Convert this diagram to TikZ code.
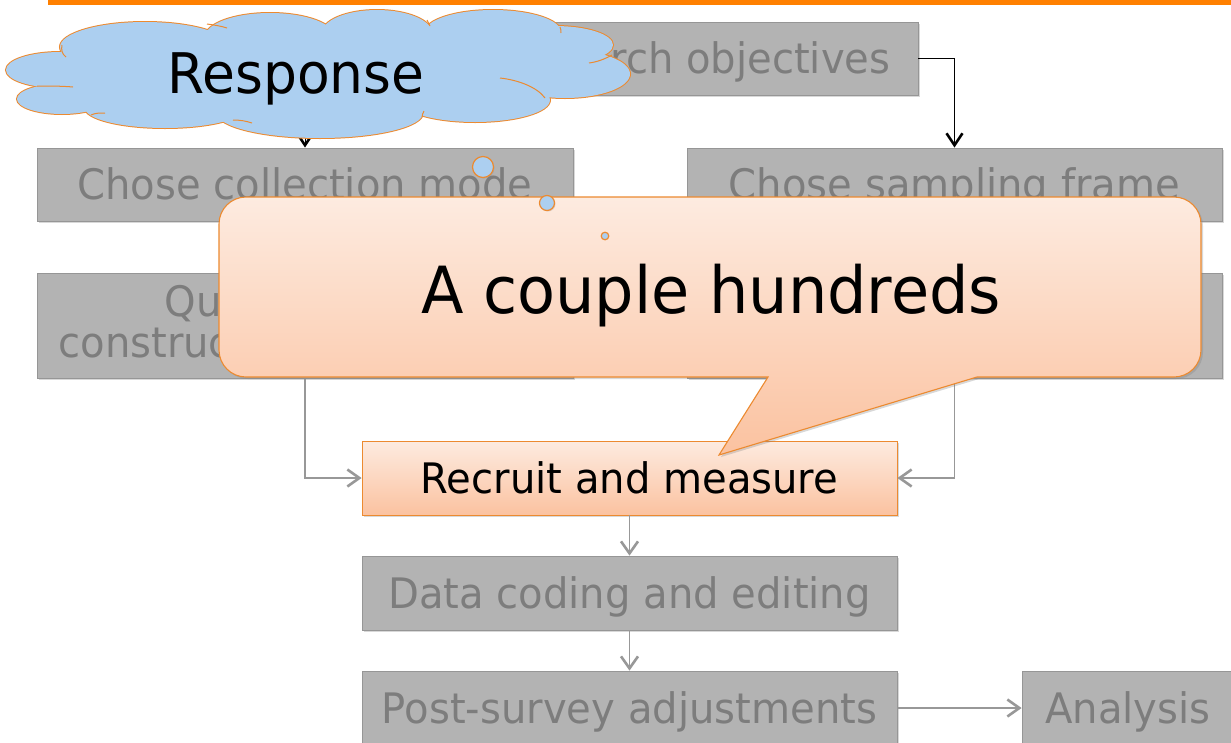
\documentclass[tikz,border=0pt]{standalone}
\usepackage{fontspec}
\setmainfont[FakeStretch=0.955]{DejaVu Sans}
\usetikzlibrary{arrows.meta,shadows}

\definecolor{boxgray}{RGB}{179,179,179}
\definecolor{boxedge}{RGB}{150,150,150}
\definecolor{boxtext}{RGB}{125,125,125}
\definecolor{linkgray}{RGB}{152,152,152}
\definecolor{accent}{RGB}{236,138,48}
\definecolor{peachtop}{RGB}{253,235,224}
\definecolor{peachbot}{RGB}{251,194,160}
\definecolor{cloudblue}{RGB}{172,207,240}
\definecolor{barorange}{RGB}{255,128,0}

\begin{document}
\begin{tikzpicture}[x=1pt,y=-1pt,
  stagebase/.style={draw=boxedge, line width=0.8pt, fill=boxgray, text=boxtext,
    inner sep=0pt, font=\fontsize{42}{41}\selectfont,
    drop shadow={shadow xshift=1.5pt, shadow yshift=-1.5pt, opacity=0.3}},
  stage/.style={stagebase, minimum height=73pt, text height=30.6pt, text depth=0pt},
  active/.style={stage, draw=accent, top color=peachtop, bottom color=peachbot, text=black},
  link/.style={draw=linkgray, line width=1.3pt,
    -{Straight Barb[length=12pt,width=17pt,line width=2.6pt]}},
  toplink/.style={draw=black, line width=1pt,
    -{Straight Barb[length=12pt,width=16pt,line width=2.6pt]}},
  puff/.style={draw=accent, line width=2pt, fill=cloudblue},
  puffcore/.style={fill=cloudblue},
  crease/.style={draw=accent, line width=1pt},
  bubble/.style={draw=accent, line width=1.2pt, fill=cloudblue}
]
\useasboundingbox (0,0) rectangle (1231,742);
\fill[white] (0,0) rectangle (1231,742);

% title rule
\fill[barorange] (48,0) rectangle (1231,4.5);

% process stages
\node[stage, minimum width=456pt] (ro) at (690,58.5) {Research objectives};
\node[stage, minimum width=536pt] (ccm) at (305,184.5) {Chose collection mode};
\node[stage, minimum width=535pt] (csf) at (954.5,184.5) {Chose sampling frame};
\node[stagebase, minimum width=536pt, minimum height=105pt, align=center] (qc) at (305,325.5)
  {Questionnaire\\construction and pretest};
\node[stagebase, minimum width=535pt, minimum height=105pt] (dss) at (954.5,325.5) {};
\node[active, minimum width=535pt, minimum height=74pt] (rm) at (629.5,478) {Recruit and measure};
\node[stage, minimum width=535pt, minimum height=74pt] (dce) at (629.5,593) {Data coding and editing};
\node[stage, minimum width=535pt, minimum height=74pt] (psa) at (629.5,708) {Post-survey adjustments};
\node[stage, minimum width=212pt, minimum height=74pt] (an) at (1128,708) {Analysis};

% connectors
\draw[toplink] (ro.west) -| (ccm.north);
\draw[toplink] (ro.east) -| (csf.north);
\draw[link] (ccm.south) -- (qc.north);
\draw[link] (csf.south) -- (dss.north);
\draw[link] (qc.south) |- (rm.west);
\draw[link] (dss.south) |- (rm.east);
\draw[link] (rm.south) -- (dce.north);
\draw[link] (dce.south) -- (psa.north);
\draw[link] (psa.east) -- (an.west);

% thought cloud: outlined puffs, then refilled so only the rim stays
\def\puffs{60/70/54/18, 62/99/45/15, 165/108/80/20, 320/113/103/25, 475/100/75/22,
  565/74/65/24, 555/45/58/19, 493/32/68/22, 377/33/55/23, 270/37/65/24, 145/47/85/25}
\foreach \cx/\cy/\rx/\ry in \puffs
  \path[puff] (\cx,\cy) ellipse [x radius=\rx, y radius=\ry];
\foreach \cx/\cy/\rx/\ry in \puffs
  \path[puffcore] (\cx,\cy) ellipse [x radius=\rx, y radius=\ry];
\path[puffcore] (320,72) ellipse [x radius=255, y radius=45];
% creases between puffs
\draw[crease] (62,45) .. controls (61,50) and (62,54) .. (66,57);
\draw[crease] (37,86) .. controls (48,86) and (62,86) .. (73,87);
\draw[crease] (91,115) .. controls (95,113) and (100,113) .. (105,113);
\draw[crease] (233,120) .. controls (240,120) and (246,121) .. (252,123);
\draw[crease] (422,117) .. controls (422,115) and (423,113) .. (424,111);
\draw[crease] (500,78) .. controls (518,80) and (537,87) .. (545,98);
\draw[crease] (612,55) .. controls (605,59) and (597,62) .. (589,63);
\draw[crease] (560,27) .. controls (561,29) and (561,31) .. (561,33);
\draw[crease] (207,24) .. controls (214,25) and (221,26) .. (227,28);
\draw[crease] (427,20) .. controls (428,22) and (429,24) .. (430,26);
\node[inner sep=0pt, font=\fontsize{56}{56}\selectfont, text height=40.8pt, text depth=0pt]
  (resp) at (296,73) {Response};

% speech callout
\path[draw=accent, line width=1.1pt, top color=peachtop, bottom color=peachbot,
      drop shadow={shadow xshift=2pt, shadow yshift=-2pt, opacity=0.3}]
  (246,197) -- (1174,197) .. controls (1188.9,197) and (1201,209.1) .. (1201,224)
  -- (1201,350) .. controls (1201,364.9) and (1188.9,377) .. (1174,377)
  -- (977,377) -- (719,455) -- (768,377)
  -- (246,377) .. controls (231.1,377) and (219,364.9) .. (219,350)
  -- (219,224) .. controls (219,209.1) and (231.1,197) .. (246,197) -- cycle;
\node[inner sep=0pt, font=\fontsize{65}{65}\selectfont, text height=47.4pt, text depth=0pt]
  (note) at (711,290) {A couple hundreds};

% thought bubbles trailing from the cloud
\path[bubble, drop shadow={shadow xshift=1pt, shadow yshift=-1pt, opacity=0.25}] (483,167) circle (10.5);
\path[bubble, drop shadow={shadow xshift=1pt, shadow yshift=-1pt, opacity=0.25}] (547,203) circle (7.5);
\path[bubble] (605,236) circle (3.8);
\end{tikzpicture}
\end{document}
